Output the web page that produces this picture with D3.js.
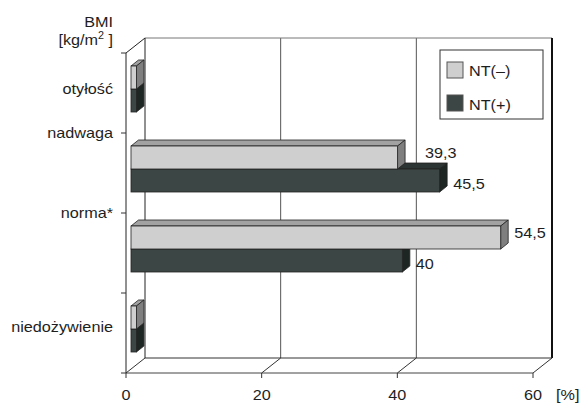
<!DOCTYPE html>
<html>
<head>
<meta charset="utf-8">
<script src="https://cdn.jsdelivr.net/npm/d3@7"></script>
<style>
  body { margin: 0; background: #fff; }
  text { font-family: "Liberation Sans", Arial, sans-serif; fill: #1e1e1e; font-size: 15px; }
</style>
</head>
<body>
<div id="viz"></div>
<script>
const categories = ['otyłość', 'nadwaga', 'norma*', 'niedożywienie'];
const seriesNames = ['NT(–)', 'NT(+)'];
const ntMinus = [0.8, 39.3, 54.5, 0.8];
const ntPlus = [0.8, 45.5, 40, 0.8];
const labelledMinus = [null, '39,3', '54,5', null];
const labelledPlus = [null, '45,5', '40', null];
const xTicks = [0, 20, 40, 60];

const colours = {
  'NT(–)': { front: '#cfcfcf', top: '#a2a2a2', side: '#7f7f7f' },
  'NT(+)': { front: '#3c4644', top: '#2c3533', side: '#1e2624' },
};

// where the category name sits inside its band (fraction of band height)
const labelAnchor = [0.45, 0, 0, 0.42];

const width = 580;
const height = 404;
const depth = { dx: 19, dy: -15 };
const barShift = { dx: 5, dy: -4 };
const barDepth = { dx: 7.5, dy: -6 };
const stretch = 1.08; // the original type is a little wide

const svg = d3.select('#viz')
  .append('svg')
  .attr('width', width)
  .attr('height', height);

const x = d3.scaleLinear().domain([0, 60]).range([126, 533]);
const y = d3.scaleBand().domain(categories).range([53, 373]).padding(0);
const inner = d3.scaleBand().domain(seriesNames).range([0, 46]);

const x0 = x(0);
const x1 = x(60);
const yTop = 53;
const yBot = 373;

const line = (a, b, c, d, stroke, w) => svg.append('line')
  .attr('x1', a).attr('y1', b).attr('x2', c).attr('y2', d)
  .attr('stroke', stroke).attr('stroke-width', w || 1);

const label = (sel, tx, ty) => sel
  .attr('transform', (d, i) => `translate(${tx(d, i)},${ty(d, i)}) scale(${stretch},1)`);

// back wall + grid
xTicks.slice(1, -1).forEach(t => line(x(t) + depth.dx, yTop + depth.dy, x(t) + depth.dx, yBot + depth.dy, '#555'));
line(x0 + depth.dx, yTop + depth.dy, x1 + depth.dx, yTop + depth.dy, '#777');
line(x1 + depth.dx, yTop + depth.dy, x1 + depth.dx, yBot + depth.dy, '#111', 2);

// floor
line(x0 + depth.dx, yBot + depth.dy, x1 + depth.dx, yBot + depth.dy, '#333');
line(x0, yBot, x1, yBot, '#444');
xTicks.forEach((t) => {
  line(x(t), yBot, x(t) + depth.dx, yBot + depth.dy, '#333');
  line(x(t), yBot, x(t), yBot + 5, '#333');
});

// left wall
line(x0, yTop, x0, yBot, '#222');
line(x0 + depth.dx, yTop + depth.dy, x0 + depth.dx, yBot + depth.dy, '#222');
line(x0, yTop, x0 + depth.dx, yTop + depth.dy, '#222');
categories.concat([null]).forEach((c) => {
  const yy = c ? y(c) : yBot;
  line(x0 - 5, yy, x0, yy, '#333');
});

// bars: NT(+) first so the light bar above covers its top face
const rows = [];
categories.forEach((c, i) => {
  rows.push({ cat: c, series: 'NT(+)', value: ntPlus[i], other: ntMinus[i], label: labelledPlus[i] });
  rows.push({ cat: c, series: 'NT(–)', value: ntMinus[i], other: ntPlus[i], label: labelledMinus[i] });
});

const pad = (y.bandwidth() - inner.range()[1]) / 2;

const geom = (d) => {
  const l = x(0) + barShift.dx;
  const r = x(d.value) + barShift.dx;
  const t = y(d.cat) + pad + inner(d.series) + barShift.dy;
  const b = t + inner.bandwidth();
  return { l, r, t, b };
};

const bars = svg.append('g').selectAll('g')
  .data(rows)
  .enter()
  .append('g');

bars.append('polygon')
  .attr('points', (d) => {
    const g = geom(d);
    return [[g.l, g.t], [g.r, g.t], [g.r + barDepth.dx, g.t + barDepth.dy], [g.l + barDepth.dx, g.t + barDepth.dy]].join(' ');
  })
  .attr('fill', d => colours[d.series].top)
  .attr('stroke', '#222')
  .attr('stroke-width', 0.8);

bars.append('polygon')
  .attr('points', (d) => {
    const g = geom(d);
    return [[g.r, g.t], [g.r + barDepth.dx, g.t + barDepth.dy], [g.r + barDepth.dx, g.b + barDepth.dy], [g.r, g.b]].join(' ');
  })
  .attr('fill', d => colours[d.series].side)
  .attr('stroke', '#222')
  .attr('stroke-width', 0.8);

bars.append('rect')
  .attr('x', d => geom(d).l)
  .attr('y', d => geom(d).t)
  .attr('width', d => geom(d).r - geom(d).l)
  .attr('height', inner.bandwidth())
  .attr('fill', d => colours[d.series].front)
  .attr('stroke', '#222')
  .attr('stroke-width', 0.8);

// value labels; a light bar's label steps right when the dark bar below is longer
label(svg.append('g').selectAll('text')
  .data(rows.filter(d => d.label))
  .enter()
  .append('text')
  .text(d => d.label),
(d) => {
  const light = d.series === 'NT(–)';
  return geom(d).r + barDepth.dx + (light && d.other > d.value ? 20 : 6);
},
(d) => {
  const g = geom(d);
  return (g.t + g.b) / 2 + (d.series === 'NT(+)' ? 8 : 0);
});

// category labels
label(svg.append('g').selectAll('text')
  .data(categories)
  .enter()
  .append('text')
  .attr('text-anchor', 'end')
  .text(c => c),
() => 113,
(c, i) => y(c) + labelAnchor[i] * y.bandwidth() + 5);

label(svg.append('text').attr('text-anchor', 'end').text('BMI'), () => 113, () => 27);

const unit = svg.append('text').attr('text-anchor', 'end');
unit.append('tspan').text('[kg/m');
unit.append('tspan').attr('dy', -6).style('font-size', '10px').text('2');
unit.append('tspan').attr('dy', 6).text(' ]');
label(unit, () => 113, () => 45);

// x tick labels
label(svg.append('g').selectAll('text')
  .data(xTicks)
  .enter()
  .append('text')
  .attr('text-anchor', 'middle')
  .text(d => d),
d => x(d),
() => 400);

label(svg.append('text').text('[%]'), () => 556, () => 400);

// legend
const legend = svg.append('g');
legend.append('rect')
  .attr('x', 440).attr('y', 50)
  .attr('width', 103).attr('height', 69)
  .attr('fill', '#fff')
  .attr('stroke', '#333');

seriesNames.forEach((s, i) => {
  legend.append('rect')
    .attr('x', 447).attr('y', 62 + i * 33)
    .attr('width', 16).attr('height', 16)
    .attr('fill', colours[s].front)
    .attr('stroke', '#555');
  label(legend.append('text').text(s), () => 469, () => 76 + i * 34);
});
</script>
</body>
</html>
